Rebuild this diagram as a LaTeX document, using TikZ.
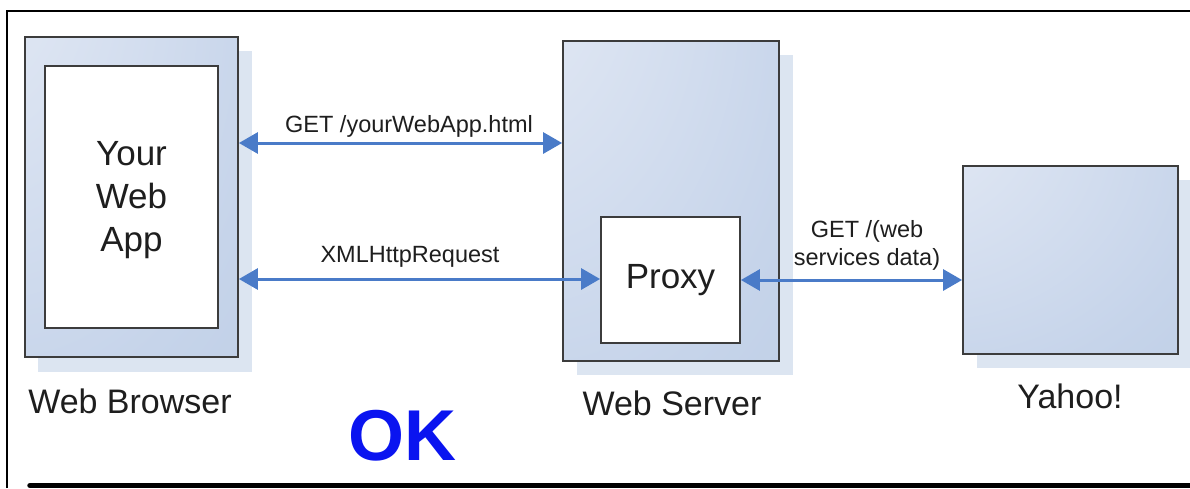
\documentclass[tikz,border=0pt]{standalone}
\usepackage{fontspec}
\setmainfont{Liberation Sans}
\usetikzlibrary{arrows.meta}
\definecolor{bxlight}{HTML}{E4EAF5}
\definecolor{bxmid}{HTML}{C6D4EA}
\definecolor{bxdark}{HTML}{B5C8E1}
\definecolor{bxshadow}{HTML}{DCE5F1}
\definecolor{bxline}{HTML}{3C3C3C}
\definecolor{arrowblue}{HTML}{4A7BC8}
\definecolor{txt}{HTML}{1E1E1E}
\definecolor{okblue}{HTML}{0A14F0}
\pgfdeclareradialshading{boxshade}{\pgfpoint{-48bp}{48bp}}{color(0bp)=(bxlight); color(10bp)=(bxlight); color(60bp)=(bxmid); color(100bp)=(bxdark); color(140bp)=(bxdark)}
\tikzset{
  bigbox/.style={shade, shading=boxshade, draw=bxline, line width=1.8pt, inner sep=0pt},
  whitebox/.style={fill=white, draw=bxline, line width=1.8pt, inner sep=0pt},
  boxtext/.style={text=txt, inner sep=0pt, align=center, font=\fontsize{35}{43}\selectfont},
  caption/.style={text=txt, inner sep=0pt, anchor=base, font=\fontsize{34}{40}\selectfont},
  msg/.style={text=txt, inner sep=0pt, anchor=base, align=center, font=\fontsize{23.5}{28}\selectfont},
  link/.style={arrowblue, line width=3pt, {Triangle[length=19pt,width=21pt]}-{Triangle[length=19pt,width=21pt]}},
  frameline/.style={black, line width=2.5pt}
}
\begin{document}
\begin{tikzpicture}[x=1pt,y=-1pt]
\useasboundingbox (0,0) rectangle (1190,488);
% frame
\draw[frameline] (7,488) -- (7,11) -- (1190,11);
\draw[black, line width=5.5pt, line cap=round] (30,485.5) -- (1195,485.5);
% shadows
\fill[bxshadow] (38,51) rectangle (252,372);
\fill[bxshadow] (577,55) rectangle (793,375);
\fill[bxshadow] (977,180) rectangle (1192,368);
% boxes
\node[bigbox, minimum width=213pt, minimum height=320pt] (browser) at (131.5,197) {};
\node[whitebox, minimum width=173pt, minimum height=262pt] (webapp) at (131.5,197) {};
\node[boxtext] (webapptext) at (131.5,200) {Your\\Web\\App};
\node[bigbox, minimum width=216pt, minimum height=320pt] (server) at (671,201) {};
\node[whitebox, boxtext, minimum width=139pt, minimum height=126pt] (proxy) at (670.5,280) {Proxy};
\node[bigbox, minimum width=215pt, minimum height=188pt] (yahoo) at (1070.5,260) {};
% captions
\node[caption] (cbrowser) at (130,413) {Web Browser};
\node[caption] (cserver) at (672,415) {Web Server};
\node[caption] (cyahoo) at (1070,408) {Yahoo!};
\node[text=okblue, inner sep=0pt, anchor=base, font=\fontsize{72}{80}\selectfont\bfseries] (ok) at (402,460) {OK};
% connectors
\coordinate (r1) at (0,143);
\coordinate (r2) at (0,279);
\draw[link] (browser.east |- r1) -- (server.west |- r1);
\draw[link] (browser.east |- r2) -- (proxy.west |- r2);
\draw[link] (proxy.east) -- (yahoo.west |- proxy.east);
% labels
\node[msg] (l1) at (409,132) {GET /yourWebApp.html};
\node[msg] (l2) at (410,262) {XMLHttpRequest};
\node[msg, anchor=center] (l3) at (867,245) {GET /(web\\services data)};
\end{tikzpicture}
\end{document}
